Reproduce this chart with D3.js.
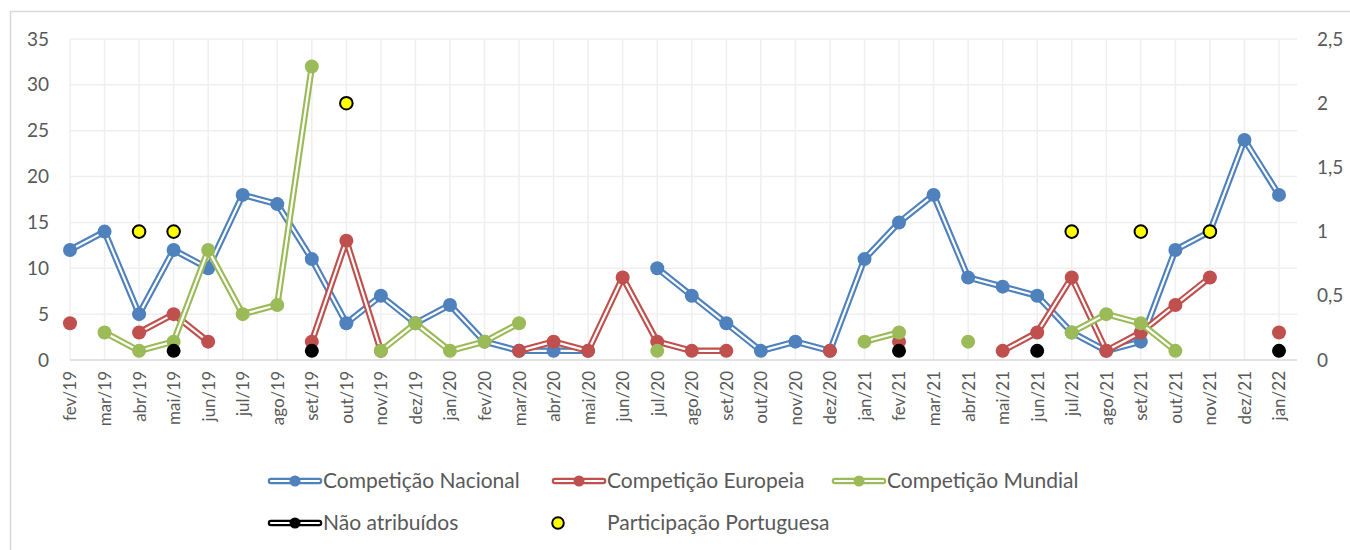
<!DOCTYPE html>
<html>
<head>
<meta charset="utf-8">
<script src="https://cdn.jsdelivr.net/npm/d3@7"></script>
<style>
html,body{margin:0;padding:0;background:#fff;}
svg{display:block;font-family:Lato,"Open Sans",sans-serif;}
</style>
</head>
<body>
<svg id="chart" width="1350" height="550"></svg>
<script>
const categories = ["fev/19","mar/19","abr/19","mai/19","jun/19","jul/19","ago/19","set/19","out/19","nov/19","dez/19",
  "jan/20","fev/20","mar/20","abr/20","mai/20","jun/20","jul/20","ago/20","set/20","out/20","nov/20","dez/20",
  "jan/21","fev/21","mar/21","abr/21","mai/21","jun/21","jul/21","ago/21","set/21","out/21","nov/21","dez/21","jan/22"];
const nacional = [12,14,5,12,10,18,17,11,4,7,4, 6,2,1,1,1,null,10,7,4,1,2,1, 11,15,18,9,8,7,3,1,2,12,14,24,18];
const europeia = [4,null,3,5,2,null,null,2,13,1,null, null,null,1,2,1,9,2,1,1,null,null,1, null,2,null,null,1,3,9,1,3,6,9,null,3];
const mundial  = [null,3,1,2,12,5,6,32,null,1,4, 1,2,4,null,null,null,1,null,null,null,null,null, 2,3,null,2,null,null,3,5,4,1,null,null,null];
const naoAtribuidos = [null,null,null,1,null,null,null,1,null,null,null, null,null,null,null,null,null,null,null,null,null,null,null, null,1,null,null,null,1,null,null,null,null,null,null,1];
const participacao  = [null,null,1,1,null,null,null,null,2,null,null, null,null,null,null,null,null,null,null,null,null,null,null, null,null,null,null,null,null,1,null,1,null,1,null,null];
const leftTicks = [0,5,10,15,20,25,30,35];
const rightTicks = [0,0.5,1,1.5,2,2.5];
const seriesNames = ["Competição Nacional","Competição Europeia","Competição Mundial","Não atribuídos","Participação Portuguesa"];

const svg = d3.select("#chart");
const textColor = "#595959";
const colors = {nac:"#4F81BD", eur:"#C0504D", mun:"#9BBB59", nao:"#000000", par:"#FFFF00"};

// outer border
svg.append("rect").attr("x",10.5).attr("y",11.5).attr("width",1400).attr("height",600)
  .attr("fill","none").attr("stroke","#D9D9D9").attr("stroke-width",1.5);

const x = d3.scalePoint().domain(categories).range([70,1279]);
const y = d3.scaleLinear().domain([0,35]).range([360,39]);
const y2 = d3.scaleLinear().domain([0,2.5]).range([360,39]);
const plotRight = 1297;

// gridlines
const grid = svg.append("g");
grid.selectAll("line.h").data(leftTicks.filter(t=>t>0)).join("line")
  .attr("x1",70).attr("x2",plotRight).attr("y1",d=>y(d)).attr("y2",d=>y(d))
  .attr("stroke","#EFEFEF").attr("stroke-width",1.5);
grid.selectAll("line.v").data(categories).join("line")
  .attr("x1",d=>x(d)).attr("x2",d=>x(d)).attr("y1",y(35)).attr("y2",y(0))
  .attr("stroke","#EFEFEF").attr("stroke-width",1.5);
svg.append("line").attr("x1",70).attr("x2",plotRight).attr("y1",y(0)).attr("y2",y(0))
  .attr("stroke","#D9D9D9").attr("stroke-width",1.5);

// left axis
const yAxis = d3.axisLeft(y).tickValues(leftTicks).tickSize(0).tickPadding(0);
const gy = svg.append("g").attr("transform","translate(49,0)").call(yAxis);
gy.select(".domain").remove();
gy.selectAll("text").attr("fill",textColor).style("font-size","19px").style("font-family","Lato");

// right axis
const y2Axis = d3.axisRight(y2).tickValues(rightTicks).tickSize(0).tickPadding(0)
  .tickFormat(d=>String(d).replace(".",","));
const gy2 = svg.append("g").attr("transform","translate(1317,0)").call(y2Axis);
gy2.select(".domain").remove();
gy2.selectAll("text").attr("fill",textColor).style("font-size","19px").style("font-family","Lato");

// x axis labels (rotated)
const xAxis = d3.axisBottom(x).tickSize(0).tickPadding(0);
const gx = svg.append("g").attr("transform","translate(0,"+y(0)+")").call(xAxis);
gx.select(".domain").remove();
gx.selectAll("text")
  .attr("fill",textColor).style("font-size","17px").style("font-family","Lato")
  .attr("text-anchor","end").attr("transform","rotate(-90)")
  .attr("x",-11).attr("y",0).attr("dy","0.35em");

// series
function drawLineSeries(values, color){
  const pts = values.map((v,i)=>({c:categories[i], v}));
  const line = d3.line().defined(d=>d.v!=null).x(d=>x(d.c)).y(d=>y(d.v));
  const g = svg.append("g");
  g.append("path").attr("d",line(pts)).attr("fill","none").attr("stroke",color)
    .attr("stroke-width",6.5).attr("stroke-linejoin","round").attr("stroke-linecap","round");
  g.append("path").attr("d",line(pts)).attr("fill","none").attr("stroke","#fff")
    .attr("stroke-width",2.2).attr("stroke-linejoin","round").attr("stroke-linecap","round");
  g.selectAll("circle").data(pts.filter(d=>d.v!=null)).join("circle")
    .attr("cx",d=>x(d.c)).attr("cy",d=>y(d.v)).attr("r",7).attr("fill",color);
}
drawLineSeries(nacional, colors.nac);
drawLineSeries(europeia, colors.eur);
drawLineSeries(mundial, colors.mun);
drawLineSeries(naoAtribuidos, colors.nao);

svg.append("g").selectAll("circle")
  .data(participacao.map((v,i)=>({c:categories[i],v})).filter(d=>d.v!=null)).join("circle")
  .attr("cx",d=>x(d.c)).attr("cy",d=>y2(d.v)).attr("r",6.3).attr("fill",colors.par)
  .attr("stroke","#000").attr("stroke-width",2);

// legend
const legend = svg.append("g").style("font-family","Lato").style("font-size","21px");
const legItems = [
  {name:seriesNames[0], color:colors.nac, x:268, y:481, type:"line"},
  {name:seriesNames[1], color:colors.eur, x:552, y:481, type:"line"},
  {name:seriesNames[2], color:colors.mun, x:832, y:481, type:"line"},
  {name:seriesNames[3], color:colors.nao, x:268, y:523, type:"line"},
  {name:seriesNames[4], color:colors.par, x:552, y:523, type:"dot"}
];
legItems.forEach(it=>{
  const g = legend.append("g");
  if(it.type==="line"){
    g.append("line").attr("x1",it.x+3).attr("x2",it.x+51).attr("y1",it.y).attr("y2",it.y)
      .attr("stroke",it.color).attr("stroke-width",6.5).attr("stroke-linecap","round");
    g.append("line").attr("x1",it.x+3).attr("x2",it.x+51).attr("y1",it.y).attr("y2",it.y)
      .attr("stroke","#fff").attr("stroke-width",2.2).attr("stroke-linecap","round");
    g.append("circle").attr("cx",it.x+27).attr("cy",it.y).attr("r",5.5).attr("fill",it.color);
    g.append("text").attr("x",it.x+55).attr("y",it.y).attr("dy","0.35em").attr("fill",textColor).text(it.name);
  } else {
    g.append("circle").attr("cx",it.x+6).attr("cy",it.y).attr("r",5.8).attr("fill",it.color)
      .attr("stroke","#000").attr("stroke-width",2);
    g.append("text").attr("x",it.x+55).attr("y",it.y).attr("dy","0.35em").attr("fill",textColor).text(it.name);
  }
});
</script>
</body>
</html>
